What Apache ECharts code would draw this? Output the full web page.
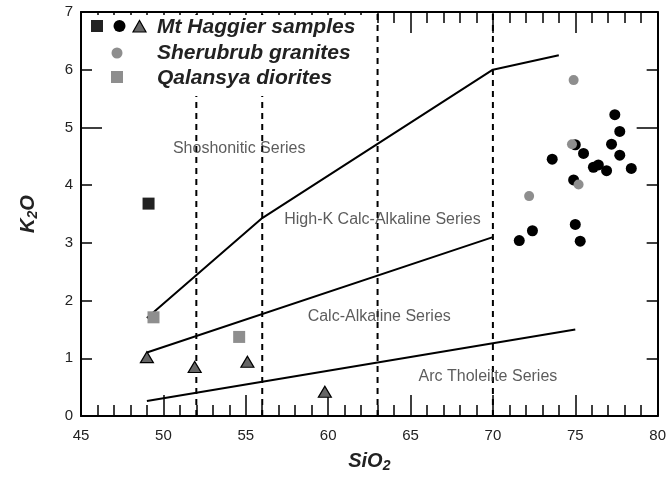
<!DOCTYPE html>
<html>
<head>
<meta charset="utf-8">
<script src="https://cdn.jsdelivr.net/npm/echarts@6/dist/echarts.min.js"></script>
<style>
  html, body { margin: 0; padding: 0; background: #fff; }
  #chart { width: 669px; height: 484px; }
</style>
</head>
<body>
<div id="chart"></div>
<script>
// 数据
const mtSquare = [[49.1, 3.68]];
const mtCircles = [
  [77.4, 5.22], [77.7, 4.93], [75.0, 4.70], [75.5, 4.55], [77.2, 4.71], [77.7, 4.52],
  [73.6, 4.45], [76.1, 4.31], [76.4, 4.35], [76.9, 4.25], [78.4, 4.29], [74.9, 4.09],
  [75.0, 3.32], [72.4, 3.21], [71.6, 3.04], [75.3, 3.03]
];
const mtTriangles = [[49.0, 1.02], [51.9, 0.85], [55.1, 0.94], [59.8, 0.42]];
const sherubrub = [[74.9, 5.82], [74.8, 4.71], [75.2, 4.01], [72.2, 3.81]];
const qalansya = [[49.4, 1.71], [54.6, 1.37]];

// 分界线
const lineShosh = [[49, 1.7], [56, 3.43], [70, 6.0], [74, 6.25]];
const lineHighK = [[49, 1.1], [70, 3.1]];
const lineCalc = [[49, 0.26], [75, 1.5]];
const dashX = [52, 56, 63, 70];

// 区域文字
const areaNames = ['Shoshonitic Series', 'High-K Calc-Alkaline Series', 'Calc-Alkaline Series', 'Arc Tholeiite Series'];
const areaPos = [[54.6, 4.63], [63.3, 3.40], [63.1, 1.73], [69.7, 0.69]];

const FONT = 'Liberation Sans, Arial, Helvetica, sans-serif';

const myChart = echarts.init(document.getElementById('chart'));

function lineSeries(data, dashed) {
  return {
    type: 'line',
    data: data,
    symbol: 'none',
    silent: true,
    z: 1,
    lineStyle: { color: '#000', width: 2, type: dashed ? [6, 5] : 'solid' }
  };
}

const tickStyle = { color: '#000', width: 1.5 };

// 坐标轴：主刻度长、次刻度短，各用一根轴画
function xAx(pos, interval, len, withLine, withLabel) {
  return {
    type: 'value', min: 45, max: 80, interval: interval, position: pos,
    axisLine: { show: withLine, onZero: false, lineStyle: { color: '#000', width: 2 } },
    axisTick: { show: true, inside: true, length: len, lineStyle: tickStyle },
    axisLabel: { show: withLabel, fontSize: 15, color: '#222', margin: 12, fontFamily: FONT },
    splitLine: { show: false }
  };
}

function yAx(pos, interval, len, withLine, withLabel) {
  return {
    type: 'value', min: 0, max: 7, interval: interval, position: pos,
    axisLine: { show: withLine, onZero: false, lineStyle: { color: '#000', width: 2 } },
    axisTick: { show: true, inside: true, length: len, lineStyle: tickStyle },
    axisLabel: { show: withLabel, fontSize: 15, color: '#222', margin: 8, fontFamily: FONT },
    splitLine: { show: false }
  };
}

const nameStyle = {
  rich: {
    a: { fontSize: 20, fontWeight: 'bold', fontStyle: 'italic', color: '#222', fontFamily: FONT },
    b: { fontSize: 14, fontWeight: 'bold', fontStyle: 'italic', color: '#222', fontFamily: FONT, padding: [10, 0, 0, 0] }
  }
};

const xMain = xAx('bottom', 5, 21, true, true);
xMain.name = '{a|SiO}{b|2}';
xMain.nameLocation = 'middle';
xMain.nameGap = 33;
xMain.nameTextStyle = nameStyle;

const yMain = yAx('left', 1, 11, true, true);
yMain.name = '{a|K}{b|2}{a|O}';
yMain.nameLocation = 'middle';
yMain.nameGap = 41;
yMain.nameTextStyle = nameStyle;

const legendFont = 'italic bold 21px ' + FONT;

myChart.setOption({
  animation: false,
  grid: { left: 81, right: 10, top: 12, bottom: 68 },
  xAxis: [
    xMain,
    xAx('bottom', 1, 11, false, false),
    xAx('top', 5, 21, true, false),
    xAx('top', 1, 11, false, false)
  ],
  yAxis: [
    yMain,
    yAx('left', 5, 21, false, false),
    yAx('right', 1, 11, true, false),
    yAx('right', 5, 21, false, false)
  ],
  series: [
    lineSeries(lineShosh),
    lineSeries(lineHighK),
    lineSeries(lineCalc),
    ...dashX.map(x => lineSeries([[x, 0], [x, 7]], true)),
    {
      type: 'scatter', symbolSize: 0, silent: true,
      data: areaNames.map((n, i) => ({ name: n, value: areaPos[i] })),
      label: { show: true, position: 'inside', formatter: '{b}', fontSize: 16, color: '#333', fontFamily: FONT }
    },
    { type: 'scatter', data: mtSquare, symbol: 'rect', symbolSize: 12, itemStyle: { color: '#222', opacity: 1 }, z: 3 },
    { type: 'scatter', data: qalansya, symbol: 'rect', symbolSize: 12, itemStyle: { color: '#8e8e8e', opacity: 1 }, z: 3 },
    { type: 'scatter', data: mtTriangles, symbol: 'triangle', symbolSize: [13, 11], itemStyle: { color: '#666', borderColor: '#000', borderWidth: 1.2, opacity: 1 }, z: 3 },
    { type: 'scatter', data: mtCircles, symbol: 'circle', symbolSize: 11, itemStyle: { color: '#000', opacity: 1 }, z: 3 },
    { type: 'scatter', data: sherubrub, symbol: 'circle', symbolSize: 10, itemStyle: { color: '#8e8e8e', opacity: 1 }, z: 4 }
  ],
  // 图例：白底框盖住刻度和虚线
  graphic: [
    { type: 'rect', z: 50, shape: { x: 93, y: 15, width: 282, height: 81 }, style: { fill: '#fff' } },
    { type: 'rect', z: 51, shape: { x: 91, y: 20, width: 12, height: 12 }, style: { fill: '#222' } },
    { type: 'circle', z: 51, shape: { cx: 119.5, cy: 26, r: 6 }, style: { fill: '#000' } },
    { type: 'polygon', z: 51, shape: { points: [[133, 32], [146, 32], [139.5, 20.5]] }, style: { fill: '#666', stroke: '#000', lineWidth: 1.2 } },
    { type: 'text', z: 51, x: 157, y: 27, style: { text: 'Mt Haggier samples', font: legendFont, fill: '#222', verticalAlign: 'middle' } },
    { type: 'circle', z: 51, shape: { cx: 117, cy: 53, r: 5.5 }, style: { fill: '#8e8e8e' } },
    { type: 'text', z: 51, x: 157, y: 53, style: { text: 'Sherubrub granites', font: legendFont, fill: '#222', verticalAlign: 'middle' } },
    { type: 'rect', z: 51, shape: { x: 111, y: 71, width: 12, height: 12 }, style: { fill: '#8e8e8e' } },
    { type: 'text', z: 51, x: 157, y: 78, style: { text: 'Qalansya diorites', font: legendFont, fill: '#222', verticalAlign: 'middle' } }
  ]
});
</script>
</body>
</html>
